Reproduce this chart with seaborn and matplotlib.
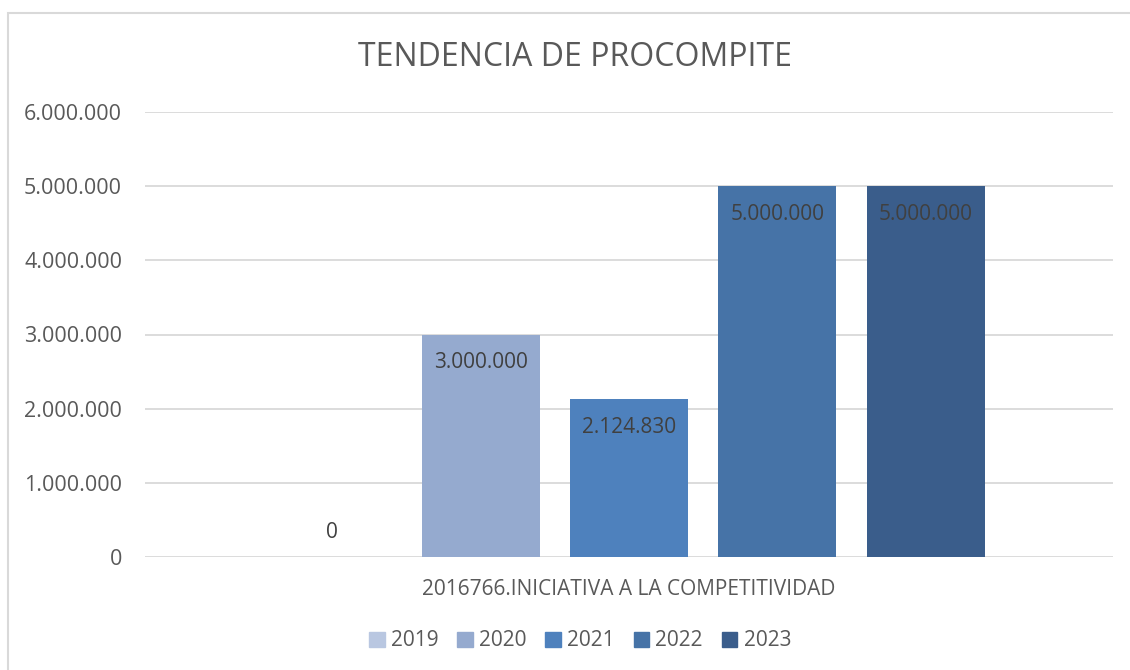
import matplotlib
matplotlib.use("Agg")
import matplotlib.pyplot as plt
import matplotlib.ticker as mticker
from matplotlib.patches import Rectangle
import seaborn as sns
import pandas as pd

# data
categoria = ["2016766.INICIATIVA A LA COMPETITIVIDAD"]
anios = ["2019", "2020", "2021", "2022", "2023"]
montos = [0, 3000000, 2124830, 5000000, 5000000]
colores = ["#B9C7E1", "#95AACF", "#4E81BD", "#4673A7", "#3A5D8B"]

sns.set_theme(style="white")
plt.rcParams['font.family'] = ['Open Sans', 'DejaVu Sans']

df = pd.DataFrame({"cat": categoria * len(anios), "anio": anios, "monto": montos})


def miles(x, pos=None):
    return "{:,.0f}".format(x).replace(",", ".")


fig = plt.figure(figsize=(11.3, 6.7), dpi=100)
ax = fig.add_axes([145 / 1130, 1 - 557 / 670, (1113 - 145) / 1130, (557 - 112) / 670])

sns.barplot(data=df, x="cat", y="monto", hue="anio", palette=colores, saturation=1,
            width=0.8, gap=0.205, ax=ax, legend=True, linewidth=0)

ax.set_ylim(0, 6000000)
ax.set_xlim(-0.5216, 0.5216)
ax.yaxis.set_major_locator(mticker.MultipleLocator(1000000))
ax.yaxis.set_major_formatter(mticker.FuncFormatter(miles))
ax.grid(axis="y", color="#D9D9D9", linewidth=1.3)
ax.set_axisbelow(True)
for s in ax.spines.values():
    s.set_visible(False)
ax.set_xlabel("")
ax.set_ylabel("")
ax.tick_params(axis="y", labelsize=15.5, labelcolor="#595959", length=0, pad=16.5)
ax.tick_params(axis="x", labelsize=15, labelcolor="#595959", length=0, pad=16)

# value labels (inside end, like Excel)
for cont in ax.containers:
    for bar in cont:
        h = bar.get_height()
        xc = bar.get_x() + bar.get_width() / 2
        off = -28 if h > 0 else 24
        ax.annotate(miles(h), (xc, h), xytext=(0, off), textcoords="offset pixels",
                    ha="center", va="center", fontsize=15, color="#404040")

fig.text(575.5 / 1130, 1 - 58 / 670, "TENDENCIA DE PROCOMPITE", ha="center", va="center",
         fontsize=23, color="#595959")

ax.legend_.remove()
handles = [Rectangle((0, 0), 1, 1, color=c) for c in colores]
fig.legend(handles, anios, loc="center", bbox_to_anchor=(580 / 1130, 1 - 641 / 670),
           ncol=5, frameon=False, fontsize=15, labelcolor="#595959",
           handlelength=0.75, handleheight=0.75, handletextpad=0.3, columnspacing=0.9)

# chart border
fig.patches.append(Rectangle((7.5 / 1130, -0.1), 1.2, 1 - 13.5 / 670 + 0.1,
                             transform=fig.transFigure, fill=False,
                             edgecolor="#D9D9D9", linewidth=1.5))

fig.savefig("out.png", dpi=100)
